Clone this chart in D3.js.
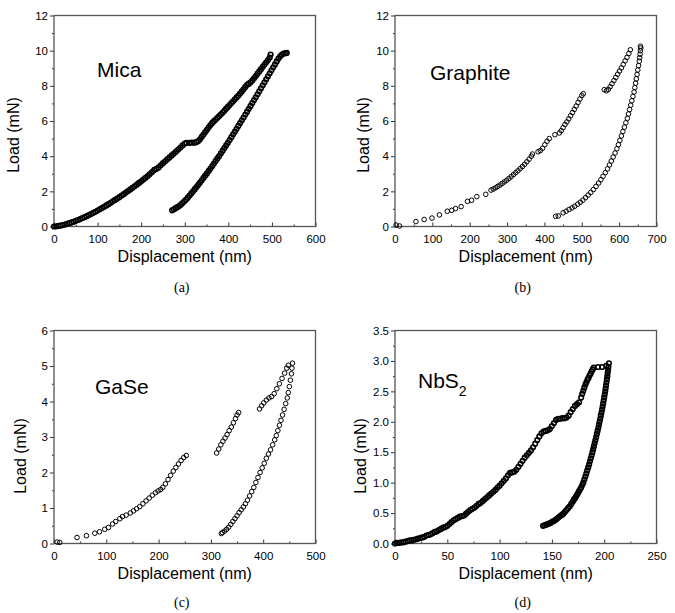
<!DOCTYPE html>
<html>
<head>
<meta charset="utf-8">
<script src="https://cdn.jsdelivr.net/npm/d3@7"></script>
<style>
body { margin: 0; background: #fff; }
svg { display: block; }
.tick text { font-family: "Liberation Sans", Arial, sans-serif; font-size: 11.5px; fill: #000; }
.title { font-family: "Liberation Sans", Arial, sans-serif; fill: #000; }
.cap { font-family: "Liberation Serif", "Times New Roman", serif; font-size: 14px; fill: #000; }
</style>
</head>
<body>
<script>
// (a) Mica
const micaLoad = [[0,0],[5,0.01],[10,0.03],[15,0.05],[20,0.08],[25,0.11],[30,0.15],[35,0.19],[40,0.23],[45,0.27],[50,0.32],[55,0.37],[60,0.42],[65,0.48],[70,0.53],[75,0.59],[80,0.65],[85,0.71],[90,0.78],[95,0.84],[100,0.91],[105,0.98],[110,1.05],[115,1.12],[120,1.2],[125,1.27],[130,1.35],[135,1.43],[140,1.51],[145,1.59],[150,1.67],[155,1.76],[160,1.84],[165,1.93],[170,2.02],[175,2.11],[180,2.2],[185,2.29],[190,2.38],[195,2.48],[200,2.57],[205,2.67],[210,2.77],[215,2.87],[220,2.98],[225,3.1],[230,3.22],[235,3.28],[240,3.36],[245,3.48],[250,3.6],[255,3.71],[260,3.82],[265,3.93],[270,4.04],[275,4.15],[280,4.26],[285,4.38],[290,4.49],[295,4.61],[300,4.72],[304,4.76],[310,4.76],[316,4.77],[322,4.77],[327,4.8],[331,4.86],[335,4.96],[339,5.1],[343,5.23],[347,5.37],[351,5.5],[355,5.64],[359,5.77],[363,5.89],[367,5.99],[371,6.08],[375,6.18],[379,6.28],[383,6.38],[387,6.48],[391,6.59],[395,6.7],[399,6.8],[403,6.91],[407,7.02],[411,7.12],[415,7.23],[419,7.34],[423,7.45],[427,7.56],[431,7.68],[435,7.8],[439,7.94],[443,8.06],[447,8.12],[451,8.2],[455,8.31],[459,8.43],[463,8.56],[467,8.69],[471,8.82],[475,8.95],[479,9.08],[483,9.21],[487,9.34],[491,9.47],[495,9.61],[497,9.78]]
const micaUnload = [[534,9.87],[531,9.86],[527,9.84],[523,9.78],[519,9.68],[515,9.55],[511,9.39],[507,9.22],[503,9.05],[499,8.88],[495,8.71],[491,8.54],[487,8.37],[483,8.2],[479,8.03],[475,7.86],[471,7.69],[467,7.52],[463,7.35],[459,7.19],[455,7.02],[451,6.86],[447,6.69],[443,6.53],[439,6.37],[435,6.2],[431,6.04],[427,5.88],[423,5.72],[419,5.56],[415,5.4],[411,5.24],[407,5.08],[403,4.92],[399,4.76],[395,4.61],[391,4.46],[387,4.31],[383,4.16],[379,4.01],[375,3.87],[371,3.73],[367,3.58],[363,3.44],[359,3.3],[355,3.16],[351,3.02],[347,2.89],[343,2.76],[339,2.63],[335,2.5],[331,2.37],[327,2.24],[323,2.12],[319,2.0],[315,1.88],[311,1.76],[307,1.64],[303,1.53],[299,1.43],[295,1.33],[291,1.24],[287,1.16],[283,1.1],[279,1.04],[275,0.98],[271,0.92]]

// (b) Graphite
const graphiteLoad = [[3,0.08],[12,0.03],[56,0.28],[78,0.4],[99,0.48],[119,0.66],[140,0.87],[152,0.92],[162,1.02],[177,1.13],[194,1.43],[205,1.49],[219,1.7],[243,1.83],[257,2.07],[263,2.13],[269,2.2],[275,2.28],[281,2.36],[287,2.45],[293,2.54],[299,2.63],[305,2.73],[311,2.84],[317,2.95],[323,3.06],[329,3.17],[335,3.29],[341,3.41],[347,3.54],[353,3.68],[359,3.83],[365,4.0],[368,4.12],[383,4.25],[389,4.32],[395,4.45],[401,4.65],[407,4.85],[413,5.0],[428,5.22],[440,5.32],[445,5.45],[450,5.62],[455,5.8],[460,5.95],[465,6.12],[470,6.3],[475,6.48],[480,6.66],[485,6.85],[490,7.05],[495,7.25],[500,7.45],[504,7.55],[560,7.78],[566,7.72],[571,7.8],[576,7.95],[581,8.12],[586,8.3],[591,8.48],[596,8.66],[601,8.84],[606,9.02],[611,9.22],[616,9.42],[621,9.62],[626,9.84],[630,10.05]]
const graphiteUnload = [[657,10.25],[658,10.15],[657,10.0],[656,9.8],[655,9.6],[654,9.4],[652,9.15],[650,8.9],[648,8.65],[646,8.4],[644,8.15],[642,7.9],[640,7.65],[637,7.4],[634,7.15],[631,6.9],[628,6.65],[625,6.4],[622,6.15],[618,5.9],[614,5.65],[610,5.4],[606,5.15],[602,4.9],[598,4.65],[594,4.42],[589,4.18],[584,3.95],[579,3.72],[574,3.5],[569,3.28],[563,3.06],[557,2.86],[551,2.66],[545,2.47],[538,2.28],[531,2.1],[524,1.94],[517,1.79],[510,1.64],[503,1.5],[496,1.38],[489,1.27],[481,1.15],[474,1.06],[466,0.97],[458,0.87],[450,0.78],[437,0.6],[430,0.58]]

// (c) GaSe
const gaseLoad = [[6,0.04],[11,0.03],[44,0.17],[62,0.22],[78,0.29],[87,0.33],[97,0.4],[104,0.45],[112,0.55],[118,0.62],[126,0.7],[131,0.76],[138,0.8],[146,0.86],[152,0.92],[158,0.98],[164,1.04],[170,1.12],[176,1.2],[182,1.28],[188,1.36],[194,1.43],[199,1.48],[204,1.52],[208,1.58],[213,1.68],[218,1.8],[223,1.92],[228,2.04],[233,2.14],[238,2.24],[243,2.34],[248,2.42],[253,2.48],[311,2.55],[315,2.66],[319,2.78],[323,2.88],[327,2.97],[331,3.07],[335,3.18],[339,3.28],[343,3.4],[347,3.52],[350,3.62],[353,3.69],[393,3.79],[397,3.88],[401,3.96],[406,4.04],[411,4.1],[416,4.14],[421,4.22],[426,4.36],[431,4.5],[436,4.65],[441,4.8],[445,4.94],[448,5.02]]
const gaseUnload = [[456,5.08],[455,4.94],[454,4.78],[452,4.6],[450,4.42],[448,4.25],[446,4.1],[443,3.94],[440,3.78],[437,3.62],[434,3.47],[431,3.33],[428,3.18],[425,3.04],[422,2.92],[418,2.78],[414,2.64],[410,2.52],[406,2.4],[402,2.26],[398,2.13],[394,2.0],[390,1.86],[386,1.72],[382,1.58],[378,1.46],[374,1.34],[370,1.22],[366,1.12],[362,1.03],[358,0.95],[354,0.87],[350,0.78],[346,0.7],[342,0.62],[338,0.54],[334,0.46],[330,0.4],[326,0.35],[322,0.31],[320,0.28]]

// (d) NbS2
const nbs2Load = [[0,0],[2,0.01],[4,0.01],[6,0.02],[8,0.02],[10,0.03],[12,0.04],[14,0.05],[16,0.05],[18,0.06],[20,0.07],[22,0.08],[24,0.09],[26,0.1],[28,0.11],[30,0.13],[32,0.14],[34,0.15],[36,0.17],[38,0.19],[40,0.2],[42,0.22],[44,0.24],[46,0.26],[48,0.27],[50,0.29],[52,0.32],[54,0.35],[56,0.38],[58,0.4],[60,0.42],[62,0.44],[64,0.45],[66,0.46],[68,0.49],[70,0.52],[72,0.55],[74,0.57],[76,0.59],[78,0.62],[80,0.65],[82,0.67],[84,0.7],[86,0.73],[88,0.76],[90,0.79],[92,0.82],[94,0.85],[96,0.88],[98,0.92],[100,0.95],[102,0.99],[104,1.03],[106,1.07],[108,1.12],[110,1.16],[112,1.17],[114,1.18],[116,1.21],[118,1.26],[120,1.31],[122,1.36],[124,1.41],[126,1.45],[128,1.49],[130,1.53],[132,1.58],[134,1.64],[136,1.7],[138,1.76],[140,1.81],[142,1.84],[144,1.85],[146,1.86],[148,1.88],[150,1.93],[152,1.98],[154,2.03],[156,2.05],[158,2.05],[160,2.06],[162,2.06],[164,2.07],[166,2.1],[168,2.16],[170,2.21],[172,2.26],[174,2.29],[176,2.32],[178,2.4],[179,2.46],[180,2.51],[181,2.56],[182,2.61],[183,2.65],[184,2.69],[185,2.72],[186,2.76],[187,2.79],[188,2.83],[189,2.86],[190,2.89],[194,2.9],[198,2.9],[202,2.92]]
const nbs2Unload = [[204.5,2.96],[204,2.9],[203.7,2.85],[203.3,2.8],[203,2.75],[202.6,2.7],[202.2,2.65],[201.8,2.6],[201.4,2.55],[201,2.5],[200.5,2.45],[200,2.4],[199.5,2.35],[199,2.3],[198.5,2.25],[198,2.2],[197.4,2.15],[196.8,2.1],[196.2,2.05],[195.6,2.0],[195,1.95],[194.4,1.9],[193.7,1.85],[193,1.8],[192.3,1.75],[191.6,1.7],[190.9,1.65],[190.2,1.6],[189.5,1.55],[188.8,1.5],[188,1.45],[187.2,1.4],[186.4,1.35],[185.6,1.3],[184.7,1.25],[183.8,1.2],[182.9,1.15],[182,1.1],[181,1.05],[180,1.0],[179,0.96],[178,0.92],[177,0.89],[176,0.86],[175,0.83],[174,0.8],[173,0.77],[172,0.74],[171,0.72],[170,0.69],[168.5,0.65],[167,0.61],[165.5,0.58],[164,0.55],[162.5,0.52],[161,0.49],[159.5,0.47],[158,0.45],[156.5,0.43],[155,0.41],[153.5,0.39],[152,0.37],[150.5,0.36],[149,0.34],[147.5,0.33],[146,0.32],[144.5,0.31],[143,0.3],[141.5,0.29]]

// tick values
const xTicksA = [0, 100, 200, 300, 400, 500, 600]
const yTicksA = [0, 2, 4, 6, 8, 10, 12]
const xTicksB = [0, 100, 200, 300, 400, 500, 600, 700]
const yTicksB = [0, 2, 4, 6, 8, 10, 12]
const xTicksC = [0, 100, 200, 300, 400, 500]
const yTicksC = [0, 1, 2, 3, 4, 5, 6]
const xTicksD = [0, 50, 100, 150, 200, 250]
const yTicksD = [0, 0.5, 1.0, 1.5, 2.0, 2.5, 3.0, 3.5]

const panels = [
    { cap: '(a)', name: 'Mica', pts: micaLoad.concat(micaUnload), xT: xTicksA, yT: yTicksA, yFmt: d3.format('d'), sw: 1.6,
      l: 54, r: 315.5, t: 15.5, b: 226.5, nameX: 97, nameY: 77, loadX: 19, loadY: 135, dispY: 262, capY: 292 },
    { cap: '(b)', name: 'Graphite', pts: graphiteLoad.concat(graphiteUnload), xT: xTicksB, yT: yTicksB, yFmt: d3.format('d'), sw: 1,
      l: 395, r: 656.5, t: 15.5, b: 226.5, nameX: 430, nameY: 80, loadX: 369, loadY: 135, dispY: 262, capY: 292 },
    { cap: '(c)', name: 'GaSe', pts: gaseLoad.concat(gaseUnload), xT: xTicksC, yT: yTicksC, yFmt: d3.format('d'), sw: 1,
      l: 54, r: 315.5, t: 330.5, b: 543.5, nameX: 95, nameY: 394, loadX: 26, loadY: 456, dispY: 579, capY: 607 },
    { cap: '(d)', name: 'NbS', sub: '2', pts: nbs2Load.concat(nbs2Unload), xT: xTicksD, yT: yTicksD, yFmt: d3.format('.1f'), sw: 1.6,
      l: 395, r: 656.5, t: 330.5, b: 543.5, nameX: 418, nameY: 388, loadX: 366, loadY: 456, dispY: 579, capY: 607 }
]

const minors = ticks => d3.pairs(ticks).map(([a, b]) => (a + b) / 2)

const svg = d3.select('body').append('svg')
    .attr('width', 675)
    .attr('height', 613)

panels.forEach(p => {
    const x = d3.scaleLinear().domain(d3.extent(p.xT)).range([p.l, p.r])
    const y = d3.scaleLinear().domain(d3.extent(p.yT)).range([p.b, p.t])
    const g = svg.append('g')

    // minor ticks
    g.append('g')
        .attr('transform', `translate(0, ${p.b})`)
        .call(d3.axisBottom(x).tickValues(minors(p.xT)).tickSize(-2).tickFormat(''))
        .call(s => s.select('.domain').remove())
    g.append('g')
        .attr('transform', `translate(${p.l}, 0)`)
        .call(d3.axisLeft(y).tickValues(minors(p.yT)).tickSize(2).tickFormat(''))
        .call(s => s.select('.domain').remove())

    // major ticks
    g.append('g')
        .attr('transform', `translate(0, ${p.b})`)
        .call(d3.axisBottom(x).tickValues(p.xT).tickSizeInner(-4).tickSizeOuter(0).tickPadding(8))
        .call(s => s.select('.domain').remove())
    g.append('g')
        .attr('transform', `translate(${p.l}, 0)`)
        .call(d3.axisLeft(y).tickValues(p.yT).tickFormat(p.yFmt).tickSizeInner(4).tickSizeOuter(0).tickPadding(2))
        .call(s => s.select('.domain').remove())

    g.selectAll('.tick line').attr('stroke', '#333')

    g.append('rect')
        .attr('x', p.l)
        .attr('y', p.t)
        .attr('width', p.r - p.l)
        .attr('height', p.b - p.t)
        .attr('fill', 'none')
        .attr('stroke', '#555')
        .attr('stroke-width', 1.3)

    g.selectAll('circle')
        .data(p.pts)
        .join('circle')
        .attr('cx', d => x(d[0]))
        .attr('cy', d => y(d[1]))
        .attr('r', 2.3)
        .attr('fill', 'none')
        .attr('stroke', '#000')
        .attr('stroke-width', p.sw)

    const name = g.append('text')
        .attr('class', 'title')
        .attr('x', p.nameX)
        .attr('y', p.nameY)
        .attr('font-size', 21)
        .text(p.name)
    if (p.sub) {
        name.append('tspan')
            .attr('font-size', 14)
            .attr('dy', 8)
            .text(p.sub)
    }

    g.append('text')
        .attr('class', 'title')
        .attr('font-size', 16)
        .attr('text-anchor', 'middle')
        .attr('transform', `translate(${p.loadX}, ${p.loadY}) rotate(-90)`)
        .text('Load (mN)')

    g.append('text')
        .attr('class', 'title')
        .attr('font-size', 16)
        .attr('text-anchor', 'middle')
        .attr('x', (p.l + p.r) / 2)
        .attr('y', p.dispY)
        .text('Displacement (nm)')

    g.append('text')
        .attr('class', 'cap')
        .attr('text-anchor', 'middle')
        .attr('x', (p.l + p.r) / 2 - 3)
        .attr('y', p.capY)
        .text(p.cap)
})
</script>
</body>
</html>
